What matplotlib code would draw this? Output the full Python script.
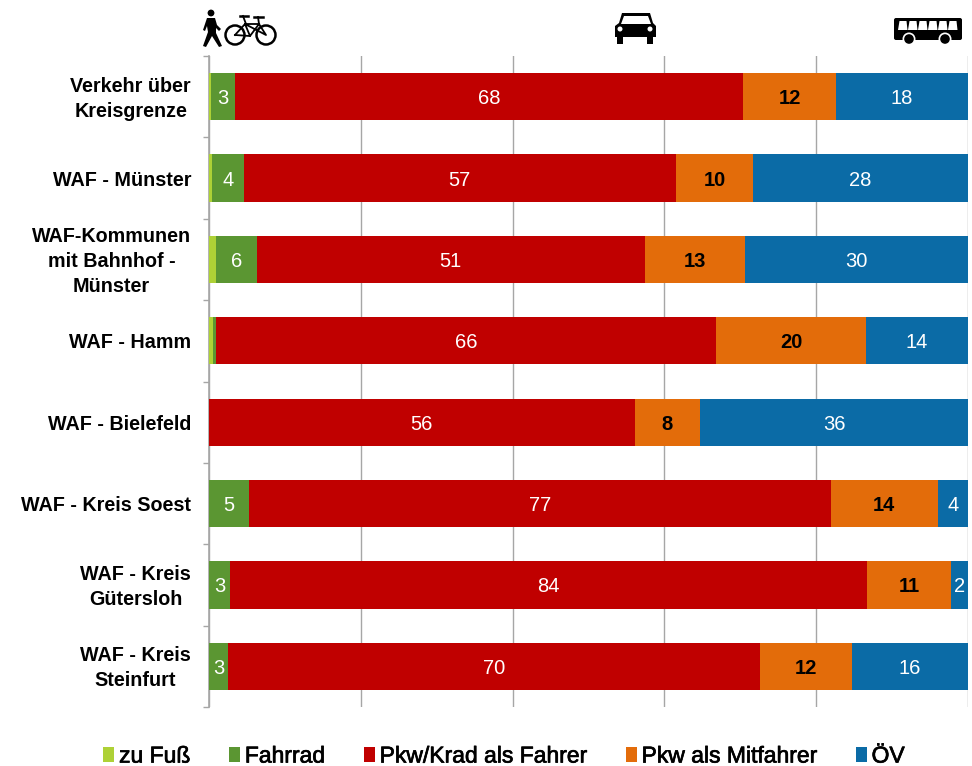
import matplotlib
matplotlib.use("Agg")
import matplotlib.pyplot as plt
import matplotlib.patheffects as pe
from matplotlib.patches import Rectangle, Circle, Polygon, FancyBboxPatch
import numpy as np

plt.rcParams['font.family'] = ['Liberation Sans', 'DejaVu Sans']

categories = ["Verkehr über\nKreisgrenze", "WAF - Münster", "WAF-Kommunen\nmit Bahnhof -\nMünster",
              "WAF - Hamm", "WAF - Bielefeld", "WAF - Kreis Soest", "WAF - Kreis\nGütersloh", "WAF - Kreis\nSteinfurt"]
series_names = ["zu Fuß", "Fahrrad", "Pkw/Krad als Fahrer", "Pkw als Mitfahrer", "ÖV"]
colors = ["#AED136", "#5B9632", "#C00000", "#E36C0A", "#0B6BA6"]

zu_fuss = [0.2, 0.4, 0.9, 0.5, 0.0, 0.0, 0.0, 0.0]
fahrrad = [3.2, 4.2, 5.4, 0.4, 0.0, 5.3, 2.8, 2.5]
fahrer = [67.0, 56.9, 51.1, 65.9, 56.1, 76.6, 83.9, 70.1]
mitfahrer = [12.2, 10.2, 13.2, 19.8, 8.6, 14.1, 11.1, 12.1]
oev = [17.4, 28.3, 29.4, 13.4, 35.3, 4.0, 2.2, 15.3]

fahrrad_labels = ["3", "4", "6", "", "", "5", "3", "3"]
fahrer_labels = ["68", "57", "51", "66", "56", "77", "84", "70"]
mitfahrer_labels = ["12", "10", "13", "20", "8", "14", "11", "12"]
oev_labels = ["18", "28", "30", "14", "36", "4", "2", "16"]

W, H = 972, 766
fig = plt.figure(figsize=(W / 100, H / 100), dpi=100)
ax = fig.add_axes([209 / W, 1 - 707 / H, 759 / W, 651 / H])

y = np.arange(len(categories))
data = [zu_fuss, fahrrad, fahrer, mitfahrer, oev]
labels = [None, fahrrad_labels, fahrer_labels, mitfahrer_labels, oev_labels]
left = np.zeros(len(categories))
for vals, lab, name, c in zip(data, labels, series_names, colors):
    vals = np.array(vals)
    bars = ax.barh(y, vals, left=left, height=0.58, color=c, label=name, zorder=3)
    if lab is not None:
        bold = name == "Pkw als Mitfahrer"
        for b, t in zip(bars, lab):
            if t:
                ax.annotate(t, xy=(b.get_x() + b.get_width() / 2, b.get_y() + b.get_height() / 2),
                            xytext=(0, -2), textcoords='offset pixels',
                            ha='center', va='center', zorder=4, annotation_clip=False,
                            color='black' if bold else 'white',
                            fontweight='bold' if bold else 'normal', fontsize=14.5)
    left += vals

ax.set_xlim(0, 100)
ax.set_ylim(len(categories) - 0.5, -0.5)
ax.set_xticks(np.arange(0, 101, 20))
ax.tick_params(axis='x', length=0, labelbottom=False)
ax.grid(axis='x', color='#A6A6A6', linewidth=1, zorder=0)
ax.set_axisbelow(True)
for s in ['top', 'right', 'bottom']:
    ax.spines[s].set_visible(False)
ax.spines['left'].set_color('#A6A6A6')
ax.spines['left'].set_linewidth(1.2)
ax.set_yticks(y)
ax.set_yticklabels([])
ax.tick_params(axis='y', which='major', length=0)
ax.set_yticks(np.arange(-0.5, len(categories)), minor=True)
ax.tick_params(axis='y', which='minor', length=4, color='#A6A6A6', width=1, direction='out')

for yi, c in zip(y, categories):
    ax.annotate(c, xy=(0, yi), xycoords=('axes fraction', 'data'), xytext=(-18, -2),
                textcoords='offset pixels', ha='right', va='center', ma='center',
                fontsize=14.2, fontweight='bold', linespacing=1.4, color='black')

handles, names = ax.get_legend_handles_labels()
leg = fig.legend(handles, names, loc='lower left', bbox_to_anchor=(103 / W, -0.002), ncol=5, frameon=False,
                 fontsize=16.5, handlelength=0.5, handleheight=0.6, handletextpad=0.2, columnspacing=1.68,
                 borderpad=0, borderaxespad=0)
for t in leg.get_texts():
    t.set_path_effects([pe.withStroke(linewidth=0.5, foreground='black')])

# pictograms in pixel coordinates
ov = fig.add_axes([0, 0, 1, 1], zorder=10)
ov.set_xlim(0, W); ov.set_ylim(H, 0); ov.axis('off'); ov.patch.set_alpha(0)
k = 'black'
# pedestrian
ov.add_patch(Circle((211, 13), 3.4, fc=k, lw=0))
ov.add_patch(Polygon([(207, 18), (215, 18), (217, 25), (221, 29), (219, 31), (216, 28), (216, 33), (222, 46), (219, 47), (212, 36), (206, 47), (203, 46), (208, 32), (207, 26), (205, 31), (203, 30)], fc=k, lw=0))
# bicycle
for cx in (235, 266):
    ov.add_patch(Circle((cx, 35), 9.5, fill=False, ec=k, lw=1.8))
ov.plot([235, 245, 266, 259, 245, 250, 259], [35, 24, 35, 24, 24, 36, 24], color=k, lw=1.3)
ov.plot([235, 250], [35, 36], color=k, lw=1.3)
ov.plot([240, 248], [16, 16], color=k, lw=1.8)
ov.plot([243, 246], [16, 24], color=k, lw=1.3)
ov.plot([254, 263], [17, 17], color=k, lw=1.8)
ov.plot([258, 259], [17, 24], color=k, lw=1.3)
# car
ov.add_patch(Polygon([(622, 13), (650, 13), (653, 23), (656, 26), (656, 37), (615, 37), (615, 26), (619, 23)], fc=k, lw=0))
ov.add_patch(Polygon([(624, 16), (648, 16), (651, 24), (621, 24)], fc='white', lw=0))
ov.add_patch(Circle((620, 29), 2.5, fc='white', lw=0))
ov.add_patch(Circle((650, 29), 2.5, fc='white', lw=0))
ov.add_patch(Rectangle((617, 37), 6, 7, fc=k, lw=0))
ov.add_patch(Rectangle((647, 37), 6, 7, fc=k, lw=0))
# bus
ov.add_patch(FancyBboxPatch((894, 18), 68, 22, boxstyle='round,pad=0,rounding_size=2', fc=k, lw=0))
for i in range(6):
    x0 = 898 + i * 10
    ov.add_patch(Polygon([(x0 + 1.5, 21), (x0 + 8.5, 21), (x0 + 9.5, 30), (x0, 30)], fc='white', lw=0))
for cx in (909, 945):
    ov.add_patch(Circle((cx, 39), 6.5, fc='white', lw=0))
    ov.add_patch(Circle((cx, 39), 4.8, fc=k, lw=0))

fig.savefig("out.png", dpi=100)
